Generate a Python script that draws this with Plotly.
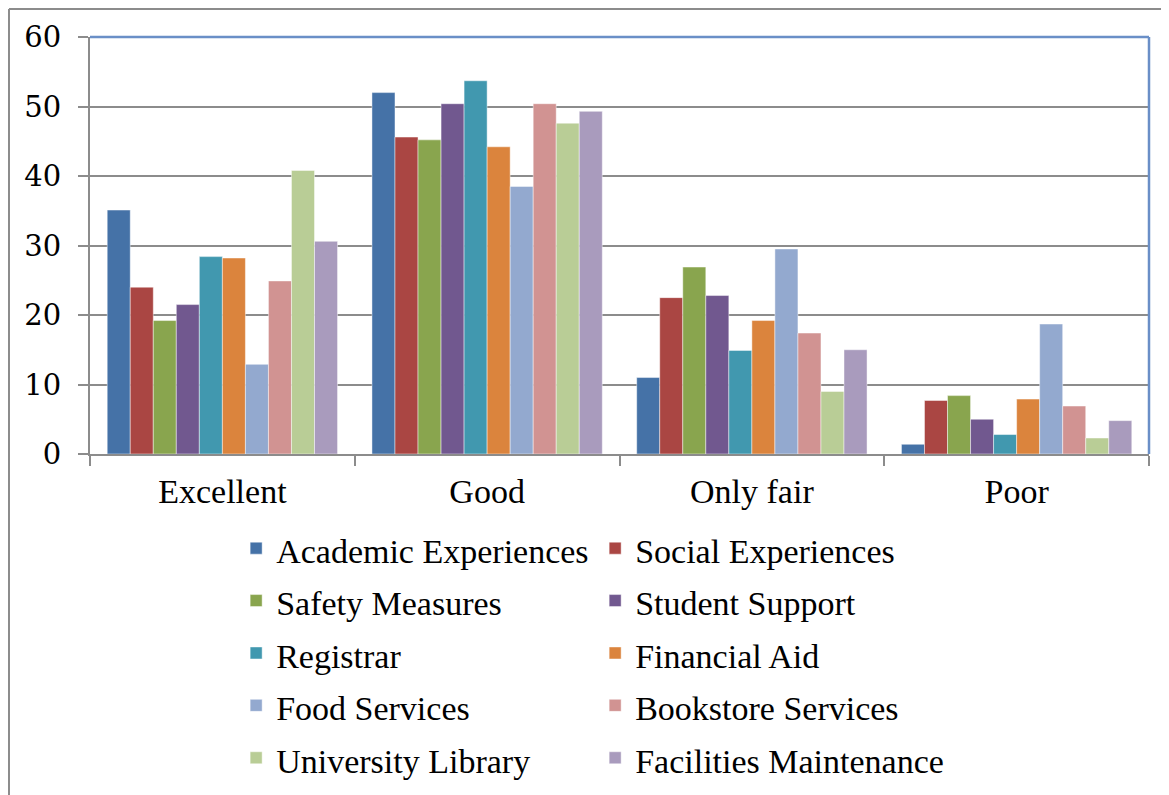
import plotly.graph_objects as go

# Categorias (eixo x)
ratings = ["Excellent", "Good", "Only fair", "Poor"]

# Valores por serviço
academic_experiences = [35.1, 52.0, 11.0, 1.4]
social_experiences = [24.0, 45.6, 22.5, 7.7]
safety_measures = [19.2, 45.2, 26.9, 8.4]
student_support = [21.5, 50.4, 22.8, 5.0]
registrar = [28.4, 53.7, 14.9, 2.8]
financial_aid = [28.2, 44.2, 19.2, 7.9]
food_services = [12.9, 38.5, 29.5, 18.7]
bookstore_services = [24.9, 50.4, 17.4, 6.9]
university_library = [40.8, 47.6, 9.0, 2.3]
facilities_maintenance = [30.6, 49.3, 15.0, 4.8]

series_names = [
    "Academic Experiences", "Social Experiences", "Safety Measures",
    "Student Support", "Registrar", "Financial Aid", "Food Services",
    "Bookstore Services", "University Library", "Facilities Maintenance",
]
series_values = [
    academic_experiences, social_experiences, safety_measures,
    student_support, registrar, financial_aid, food_services,
    bookstore_services, university_library, facilities_maintenance,
]
colors = [
    "#4572A7", "#AA4643", "#89A54E", "#71588F", "#4198AF",
    "#DB843D", "#93A9CF", "#D19392", "#B9CD96", "#A99BBD",
]

fig = go.Figure()

for nome, valores, cor in zip(series_names, series_values, colors):
    fig.add_trace(go.Bar(
        x=ratings,
        y=valores,
        # span menor que a fonte da legenda -> mais espaço entre linhas
        name='<span style="font-size:34px">' + nome + '</span>',
        marker=dict(color=cor, line=dict(color="rgba(255,255,255,0.45)", width=1)),
    ))

serif = "Liberation Serif, Times New Roman, serif"

# a página tem 8px de margem no body -> margens compensadas
fig.update_layout(
    width=1169,
    height=795,
    barmode="group",
    bargap=0.13,
    bargroupgap=0,
    plot_bgcolor="white",
    paper_bgcolor="white",
    margin=dict(l=82, r=28, t=29, b=349, pad=0),
    font=dict(family=serif, color="black"),
    showlegend=True,
    legend=dict(
        orientation="h",
        x=0.138, xanchor="left",
        y=-0.151, yanchor="top",
        entrywidth=314,
        font=dict(family=serif, size=38, color="black"),
        bgcolor="rgba(0,0,0,0)",
        itemclick=False,
    ),
)

fig.update_xaxes(
    showline=True, linecolor="#8c8c8c", linewidth=2,
    ticks="outside", tickson="boundaries", ticklen=10, tickwidth=2, tickcolor="#8c8c8c",
    tickfont=dict(family=serif, size=34, color="black"),
    ticklabelstandoff=6,
    showgrid=False,
)

fig.update_yaxes(
    range=[0, 60], dtick=10,
    showline=True, linecolor="#8c8c8c", linewidth=2,
    ticks="outside", ticklen=10, tickwidth=2, tickcolor="#8c8c8c",
    tickfont=dict(family="DejaVu Serif, serif", size=29, color="black"),
    ticklabelstandoff=11,
    showgrid=True, gridcolor="#8c8c8c", gridwidth=1.5,
    zeroline=False,
)

# borda azul do plot (topo e direita) + moldura cinza externa
fig.add_shape(type="line", xref="paper", yref="paper", x0=0, x1=1, y0=1, y1=1,
              line=dict(color="#6a8fc7", width=2.5))
fig.add_shape(type="line", xref="paper", yref="paper", x0=1, x1=1, y0=0, y1=1,
              line=dict(color="#6a8fc7", width=2.5))
fig.add_shape(type="line", xref="paper", yref="paper", x0=-0.0765, x1=-0.0765, y0=1.0671, y1=-0.84,
              line=dict(color="#8c8c8c", width=2))
fig.add_shape(type="line", xref="paper", yref="paper", x0=-0.0765, x1=1.2, y0=1.0671, y1=1.0671,
              line=dict(color="#8c8c8c", width=2))

fig.write_html("out.html")
